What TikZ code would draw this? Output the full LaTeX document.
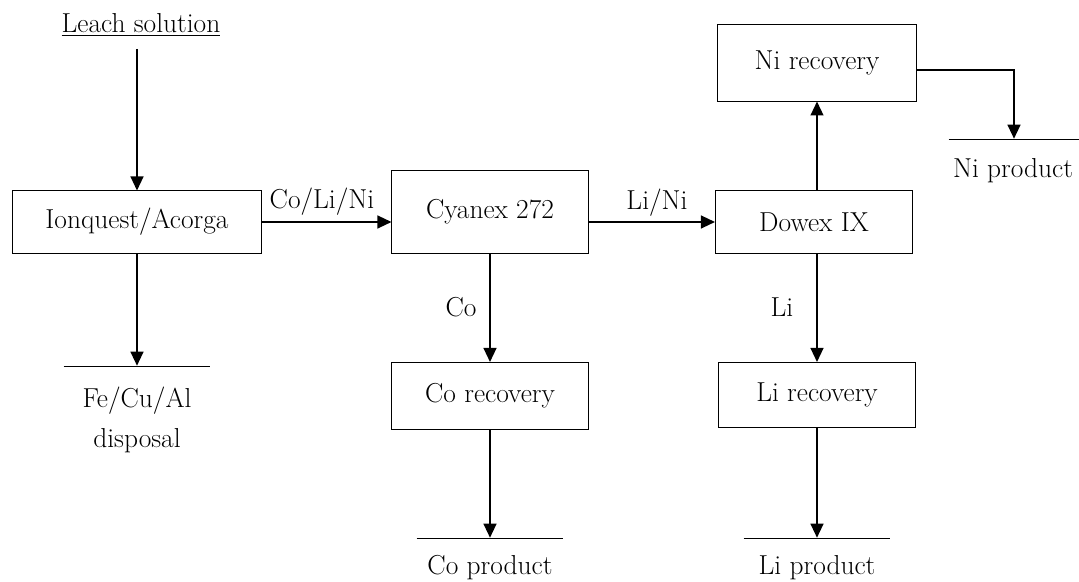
\documentclass[tikz,border=0pt]{standalone}
\usepackage{fontspec}
\usetikzlibrary{arrows.meta}
\tikzstyle{box} = [draw, line width=0.7pt, minimum width=4.925cm, minimum height=1.6cm, inner sep=1mm]
\tikzstyle{txt} = [draw=none, inner sep=.2mm, align=center]
\tikzstyle{sink} = [draw=none, inner sep=0mm, minimum height=0mm, minimum width=3.65cm]
\tikzstyle{flow} = [line width=1.3pt, ->]

\begin{document}
\begin{tikzpicture}[x=0.025cm, y=-0.025cm, >={Triangle[length=0.35cm, width=0.32cm]},
                    font=\fontsize{19.5}{28}\selectfont]
                %\draw[help lines] (0, 0) grid (1079, 582);
                \useasboundingbox (0, 0) rectangle (1079, 582);

                \node[txt] (leach) at (141, 25) {\underline{Leach solution}};
                \coordinate (feed) at (137, 49);

                \node[box, minimum width=6.2cm, minimum height=1.55cm] (ion) at (137, 222) {Ionquest/Acorga};
                \node[box, minimum width=4.9cm, minimum height=2.05cm] (cyanex) at (490, 212) {Cyanex 272};
                \node[box, minimum height=1.55cm] (dowex) at (814, 222) {Dowex IX};
                \node[box, minimum width=4.975cm, minimum height=1.9cm] (nirec) at (817, 63) {Ni recovery};
                \node[box, minimum height=1.675cm] (corec) at (490, 396) {Co recovery};
                \node[box, minimum height=1.625cm] (lirec) at (817, 395) {Li recovery};

                % end streams
                \node[sink] (disp) at (137, 366) {};
                \node[sink] (coprod) at (490, 538) {};
                \node[sink] (liprod) at (817, 538) {};
                \node[sink, minimum width=3.25cm] (niprod) at (1014, 139) {};
                \foreach \s in {disp, coprod, liprod, niprod} {
                    \draw[line width=0.7pt] (\s.west) -- (\s.east);
                }
                \node[txt] (disptxt) at (137, 420) {Fe/Cu/Al\\disposal};
                \node[txt] (coprodtxt) at (490, 568) {Co product};
                \node[txt] (liprodtxt) at (817, 568) {Li product};
                \node[txt] (niprodtxt) at (1013, 171) {Ni product};

                % streams
                \draw[flow] (feed) -- (ion);
                \draw[flow] (ion.east) -- (cyanex.west |- ion.east);
                \draw[flow] (cyanex.east |- dowex.west) -- (dowex.west);
                \draw[flow] (ion) -- (disp);
                \draw[flow] (cyanex) -- (corec);
                \draw[flow] (corec) -- (coprod);
                \draw[flow] (nirec.south |- dowex.north) -- (nirec.south);
                \draw[flow] (dowex.south -| lirec) -- (lirec.north);
                \draw[flow] (lirec) -- (liprod);
                \draw[flow] ([yshift=-7*0.025cm]nirec.east) -| (niprod);

                \node[txt] (colini) at (322, 202) {Co/Li/Ni};
                \node[txt] (lini) at (657, 203) {Li/Ni};
                \node[txt] (co) at (461, 307) {Co};
                \node[txt] (li) at (782, 307) {Li};
            \end{tikzpicture}
\end{document}
